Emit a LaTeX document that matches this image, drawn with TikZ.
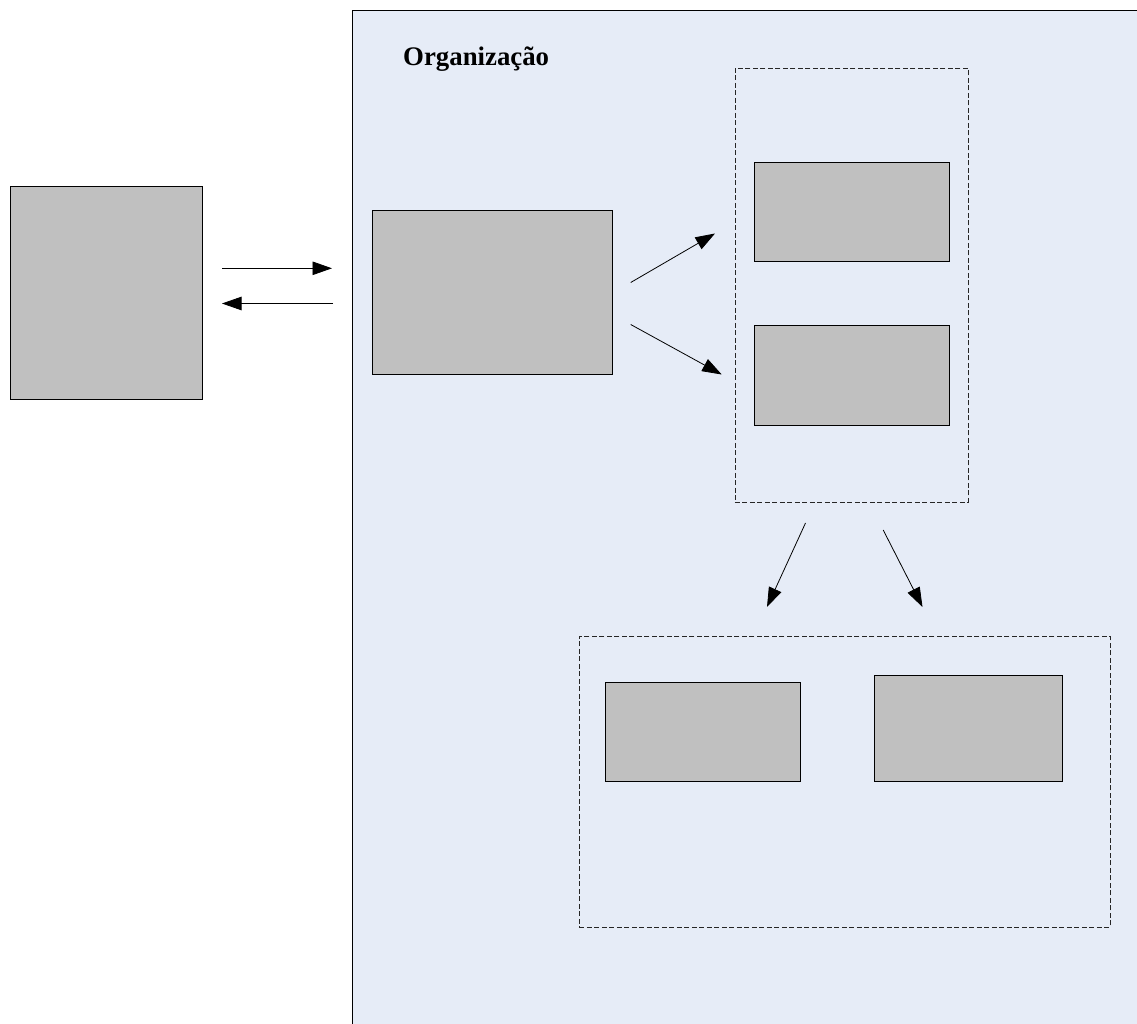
\documentclass[tikz,border=0pt]{standalone}
\usepackage{fontspec}
\setmainfont{Liberation Serif}
\usetikzlibrary{arrows.meta}
\definecolor{orgbg}{HTML}{E6ECF7}
\definecolor{boxgray}{HTML}{C0C0C0}
\begin{document}
\begin{tikzpicture}[x=1pt,y=-1pt,
  graybox/.style={draw=black,fill=boxgray,line width=0.9pt,inner sep=0pt,anchor=north west},
  groupbox/.style={draw=black!85,line width=0.9pt,inner sep=0pt,anchor=north west,dash pattern=on 5pt off 2.5pt},
  flow/.style={line width=0.8pt,-{Triangle[length=19.5pt,width=13.5pt]}}]
\useasboundingbox (0,0) rectangle (1137,1024);
\fill[white] (0,0) rectangle (1137,1024);
\begin{scope}
\clip (0,0) rectangle (1137,1024);
\node[draw=black,fill=orgbg,line width=1.4pt,inner sep=0pt,anchor=north west,
  minimum width=820pt,minimum height=1030pt] (org) at (352,10) {};
\end{scope}
\node[anchor=base west,inner sep=0pt,font=\fontsize{26.8}{32}\selectfont\bfseries] (title) at (403,65.5) {Organização};
% boxes
\node[graybox,minimum width=191.5pt,minimum height=212.5pt] (ext) at (10,186) {};
\node[graybox,minimum width=240pt,minimum height=164pt] (main) at (372,210) {};
\node[groupbox,minimum width=233.5pt,minimum height=433.5pt] (g1) at (734.5,68) {};
\node[graybox,minimum width=195pt,minimum height=99pt] (b1) at (753.5,162) {};
\node[graybox,minimum width=195pt,minimum height=99.5pt] (b2) at (753.5,325) {};
\node[groupbox,minimum width=531pt,minimum height=290.5pt] (g2) at (579,636) {};
\node[graybox,minimum width=195pt,minimum height=99pt] (c1) at (604.5,682) {};
\node[graybox,minimum width=188.5pt,minimum height=106pt] (c2) at (873.5,675) {};
% arrow end points
\coordinate (a1s) at (222,268.3);
\coordinate (a1e) at (332,268.3);
\coordinate (a2s) at (333,303.5);
\coordinate (a2e) at (222,303.5);
\coordinate (a3s) at (630.7,282.5);
\coordinate (a3e) at (715,233.5);
\coordinate (a4s) at (630.7,324.5);
\coordinate (a4e) at (721.7,374.5);
\coordinate (a5s) at (805.5,523);
\coordinate (a5e) at (767,607);
\coordinate (a6s) at (883.2,530);
\coordinate (a6e) at (922.5,607);
\draw[flow] (a1s) -- (a1e);
\draw[flow] (a2s) -- (a2e);
\draw[flow] (a3s) -- (a3e);
\draw[flow] (a4s) -- (a4e);
\draw[flow] (a5s) -- (a5e);
\draw[flow] (a6s) -- (a6e);
\end{tikzpicture}
\end{document}
